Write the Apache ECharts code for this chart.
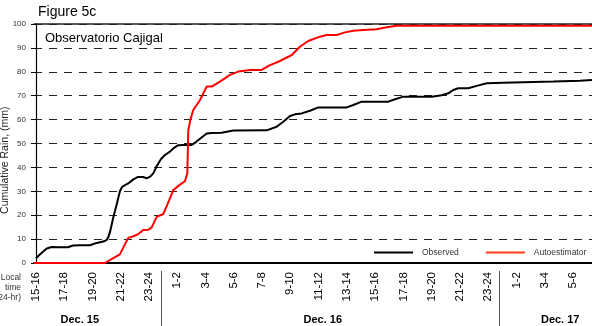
<!DOCTYPE html>
<html>
<head>
<meta charset="utf-8">
<script src="https://cdn.jsdelivr.net/npm/echarts@6/dist/echarts.min.js"></script>
<style>
  html, body { margin: 0; padding: 0; background: #fff; }
  #chart { width: 592px; height: 326px; }
</style>
</head>
<body>
<div id="chart"></div>
<script>
// Hours counted from the 15-16 local-time slot on Dec. 15
const obsHours = [0, 0.35, 0.76, 1.11, 1.70, 2.26, 2.62, 3.11, 3.82, 4.30, 4.76, 5.00, 5.10, 5.24, 5.47, 5.71,
  5.94, 6.09, 6.30, 6.53, 6.89, 7.22, 7.59, 7.83, 8.07, 8.30, 8.54, 8.85, 9.13, 9.48, 9.77, 10.07, 10.47,
  11.02, 11.32, 11.61, 12.08, 12.43, 13.14, 13.96, 16.33, 17.03, 17.50, 17.98, 18.33, 18.80, 19.39, 19.98,
  21.99, 22.46, 23.05, 24.93, 25.41, 26.0, 28.0, 28.71, 29.18, 29.53, 29.89, 30.6, 31.19, 31.9, 33.07,
  36.61, 38.5, 39.35];
const obsRain = [2.0, 4.0, 6.1, 6.7, 6.6, 6.6, 7.3, 7.4, 7.4, 8.4, 9.0, 9.6, 10.5, 13, 19, 24.5,
  30, 31.8, 32.6, 33.3, 35, 36, 36, 35.4, 36.1, 37.5, 40.5, 43.5, 45.2, 46.6, 48.2, 49.3, 49.4,
  49.4, 50.6, 52, 54.2, 54.4, 54.5, 55.4, 55.5, 57, 59.1, 61.5, 62.2, 62.6, 63.7, 65.1,
  65.1, 66.1, 67.5, 67.5, 68.5, 69.6, 69.6, 70.2, 71.0, 72.4, 73.1, 73.1, 74.1, 75.2, 75.4,
  75.9, 76.3, 76.6];

const estHours = [-0.14, 4.88, 5.47, 5.94, 6.30, 6.53, 6.89, 7.24, 7.59, 7.95, 8.19, 8.54, 9.01, 9.25, 9.72,
  10.19, 10.54, 10.71, 10.78, 10.93, 11.13, 11.61, 12.08, 12.43, 13.02, 13.73, 14.32, 15.15, 15.97, 16.56,
  17.15, 17.86, 18.10, 18.68, 19.27, 20.10, 20.57, 21.28, 21.87, 22.46, 23.16, 24.11, 24.82, 25.53, 39.35];
const estRain = [0, 0, 2, 3.6, 7.9, 10.5, 11.2, 12.1, 13.8, 13.9, 14.9, 19.3, 20.5, 23.8, 30.5,
  32.8, 34.2, 37.5, 55.6, 60, 64, 68.2, 73.8, 73.8, 75.9, 78.7, 80.1, 80.8, 80.8, 82.8,
  84.2, 86.3, 87, 90.5, 92.9, 94.7, 95.4, 95.4, 96.5, 97.2, 97.5, 97.8, 98.6, 99.3, 99.3];

// Two-hour local-time slot labels along the bottom axis
const slotHours = [0, 2, 4, 6, 8, 10, 12, 14, 16, 18, 20, 22, 24, 26, 28, 30, 32, 34, 36, 38];
const slotLabels = ['15-16', '17-18', '19-20', '21-22', '23-24', '1-2', '3-4', '5-6', '7-8', '9-10',
  '11-12', '13-14', '15-16', '17-18', '19-20', '21-22', '23-24', '1-2', '3-4', '5-6'];

// Day names and where they sit, plus the midnight dividers
const dayNames = ['Dec. 15', 'Dec. 16', 'Dec. 17'];
const dayCenters = [3.1, 20.3, 37.1];
const midnightHours = [8.85, 32.8];

const yTicks = [0, 10, 20, 30, 40, 50, 60, 70, 80, 90, 100];

const FONT = '"Liberation Sans", Arial, Helvetica, sans-serif';
const X_MIN = -0.14, X_MAX = 39.35;

const pairs = (xs, ys) => xs.map((x, i) => [x, ys[i]]);

const chart = echarts.init(document.getElementById('chart'), null, { renderer: 'canvas' });

const option = {
  animation: false,
  backgroundColor: '#fff',
  textStyle: { fontFamily: FONT },
  title: [
    { text: 'Figure 5c', left: 33, top: 0,
      textStyle: { fontFamily: FONT, fontSize: 14, fontWeight: 'normal', color: '#000' } },
    { text: 'Observatorio Cajigal', left: 40, top: 27,
      textStyle: { fontFamily: FONT, fontSize: 13, fontWeight: 'normal', color: '#000' } }
  ],
  grid: { left: 34, right: 0, top: 24, bottom: 63, containLabel: false, outerBoundsMode: 'none' },
  legend: {
    left: 374, top: 248, padding: 0,
    icon: 'rect', itemWidth: 39, itemHeight: 2, itemGap: 27,
    textStyle: { fontFamily: FONT, fontSize: 8.5, color: '#333', padding: [0, 0, 0, 4] },
    data: [
      { name: 'Observed' },
      { name: 'Autoestimator', itemStyle: { color: '#ff3a1a' } }
    ]
  },
  xAxis: [
    {
      type: 'value', min: X_MIN, max: X_MAX,
      axisLine: { show: true, onZero: false, lineStyle: { color: '#000', width: 2 } },
      axisTick: { show: false },
      splitLine: { show: false },
      axisLabel: {
        customValues: slotHours,
        rotate: 90, margin: 9,
        fontFamily: FONT, fontSize: 11.5, color: '#000',
        formatter: (v) => slotLabels[slotHours.indexOf(v)]
      }
    },
    {
      type: 'value', position: 'top', min: X_MIN, max: X_MAX,
      axisLine: { show: true, onZero: false, lineStyle: { color: '#222', width: 1.5 } },
      axisTick: { show: false }, axisLabel: { show: false }, splitLine: { show: false }
    }
  ],
  yAxis: {
    type: 'value', min: 0, max: 100, interval: 10,
    axisLine: { show: true, lineStyle: { color: '#000', width: 1.2 } },
    axisTick: { show: true, length: 5, lineStyle: { color: '#000' } },
    axisLabel: { fontFamily: FONT, fontSize: 8, color: '#333', margin: 8,
      formatter: (v) => (yTicks.includes(v) ? String(v) : '') },
    splitLine: { show: true, lineStyle: { color: '#222', width: 1, type: [8, 7] } }
  },
  series: [
    {
      name: 'Observed', type: 'line', xAxisIndex: 0,
      data: pairs(obsHours, obsRain),
      symbol: 'none', showSymbol: false,
      lineStyle: { color: '#000', width: 2 }, itemStyle: { color: '#000' }
    },
    {
      name: 'Autoestimator', type: 'line', xAxisIndex: 0,
      data: pairs(estHours, estRain),
      symbol: 'none', showSymbol: false,
      lineStyle: { color: '#ff0000', width: 2 }, itemStyle: { color: '#ff0000' }
    }
  ]
};

chart.setOption(option);

// Day dividers, day names, axis titles, placed from the axis scale
const toX = (h) => chart.convertToPixel({ xAxisIndex: 0 }, h);
const toY = (v) => chart.convertToPixel({ yAxisIndex: 0 }, v);
const graphics = [];
midnightHours.forEach((h) => {
  const x = Math.round(toX(h)) + 0.5;
  graphics.push({ type: 'line', shape: { x1: x, y1: 271, x2: x, y2: 326 },
    style: { stroke: '#555', lineWidth: 1 }, silent: true });
});
dayNames.forEach((name, i) => {
  graphics.push({ type: 'text', x: toX(dayCenters[i]), y: 320,
    style: { text: name, font: 'bold 11px ' + FONT, fill: '#000', align: 'center', verticalAlign: 'middle' },
    silent: true });
});
graphics.push({ type: 'text', x: 21, y: 288,
  style: { text: 'Local\ntime\n(24-hr)', font: '8.5px ' + FONT, fill: '#333',
    align: 'right', verticalAlign: 'middle', lineHeight: 10 }, silent: true });
graphics.push({ type: 'text', x: 5, y: toY(43), rotation: Math.PI / 2,
  style: { text: 'Cumulative Rain, (mm)', font: '10.5px ' + FONT, fill: '#222',
    align: 'center', verticalAlign: 'middle' }, silent: true });

chart.setOption({ graphic: graphics });
</script>
</body>
</html>
